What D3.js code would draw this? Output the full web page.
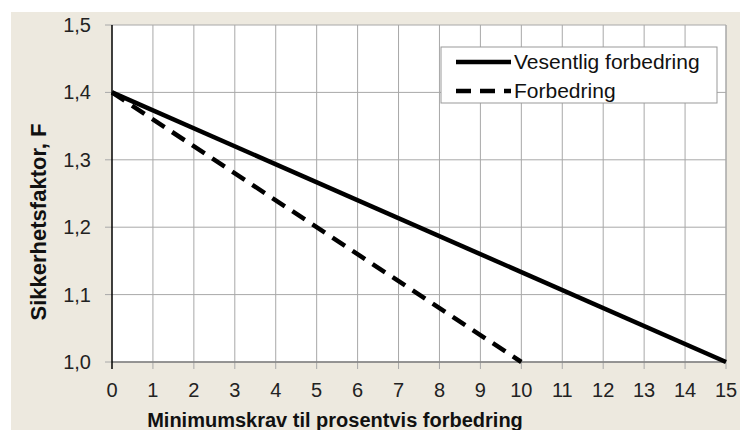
<!DOCTYPE html>
<html><head><meta charset="utf-8">
<script src="https://cdn.jsdelivr.net/npm/d3@7"></script>
<style>body{margin:0;background:#fff;}svg{display:block;font-family:"Liberation Sans",Arial,sans-serif;}</style>
</head><body>
<svg id="c" width="740" height="430"></svg>
<script>
const xTicks = [0,1,2,3,4,5,6,7,8,9,10,11,12,13,14,15];
const yTicks = [1.0,1.1,1.2,1.3,1.4,1.5];
const seriesNames = ["Vesentlig forbedring","Forbedring"];
const vesentligX = [0,15];
const vesentligY = [1.4,1.0];
const forbedringX = [0,10];
const forbedringY = [1.4,1.0];
const xTitle = "Minimumskrav til prosentvis forbedring";
const yTitle = "Sikkerhetsfaktor, F";

const svg = d3.select("#c");
svg.append("rect").attr("x",11).attr("y",12).attr("width",729).attr("height",418).attr("fill","#ede9df");
const L=112,R=726,T=25,B=362;
const x = d3.scaleLinear().domain([0,15]).range([L,R]);
const y = d3.scaleLinear().domain([1.0,1.5]).range([B,T]);
svg.append("rect").attr("x",L).attr("y",T).attr("width",R-L).attr("height",B-T).attr("fill","#fff");
// grid
svg.append("g").selectAll("line").data(xTicks.slice(1)).join("line")
  .attr("x1",d=>x(d)).attr("x2",d=>x(d)).attr("y1",T).attr("y2",B+7).attr("stroke","#a8a8a8").attr("stroke-width",1);
svg.append("g").selectAll("line").data(yTicks).join("line")
  .attr("x1",L-7).attr("x2",R).attr("y1",d=>y(d)).attr("y2",d=>y(d)).attr("stroke","#a8a8a8").attr("stroke-width",1);
svg.append("line").attr("x1",R).attr("x2",R).attr("y1",T).attr("y2",B).attr("stroke","#a8a8a8");
svg.append("line").attr("x1",L).attr("x2",R).attr("y1",B).attr("y2",B).attr("stroke","#808080").attr("stroke-width",1.5);
svg.append("line").attr("x1",L).attr("x2",L).attr("y1",T).attr("y2",B+7).attr("stroke","#000").attr("stroke-width",1.5);
// tick labels
svg.append("g").selectAll("text").data(xTicks).join("text")
  .attr("x",d=>x(d)).attr("y",397).attr("text-anchor","middle").attr("font-size",20).attr("fill","#222").text(d=>d);
svg.append("g").selectAll("text").data(yTicks).join("text")
  .attr("x",91).attr("y",d=>y(d)+7).attr("text-anchor","end").attr("font-size",20).attr("fill","#222")
  .text(d=>d3.format(".1f")(d).replace(".",","));
svg.append("text").attr("x",335).attr("y",427).attr("text-anchor","middle").attr("font-size",20).attr("font-weight","bold").attr("fill","#111").text(xTitle);
svg.append("text").attr("transform","translate(46,222) rotate(-90)").attr("text-anchor","middle").attr("font-size",22).attr("font-weight","bold").attr("fill","#111").text(yTitle);
// lines
const line = d3.line().x(d=>x(d[0])).y(d=>y(d[1]));
svg.append("path").attr("d",line(d3.zip(vesentligX,vesentligY))).attr("fill","none").attr("stroke","#000").attr("stroke-width",4.5);
svg.append("path").attr("d",line(d3.zip(forbedringX,forbedringY))).attr("fill","none").attr("stroke","#000").attr("stroke-width",4.5).attr("stroke-dasharray","15,9");
// legend
const lg = svg.append("g");
lg.append("rect").attr("x",441).attr("y",47).attr("width",276).attr("height",56).attr("fill","#fff").attr("stroke","#999");
[0,1].forEach(i=>{
  const yy = 62 + i*29;
  lg.append("line").attr("x1",456).attr("x2",511).attr("y1",yy).attr("y2",yy).attr("stroke","#000").attr("stroke-width",4.5)
    .attr("stroke-dasharray", i===1 ? "15,9" : null);
  lg.append("text").attr("x",514).attr("y",yy+7).attr("font-size",21).attr("fill","#111").text(seriesNames[i]);
});
</script>
</body></html>
